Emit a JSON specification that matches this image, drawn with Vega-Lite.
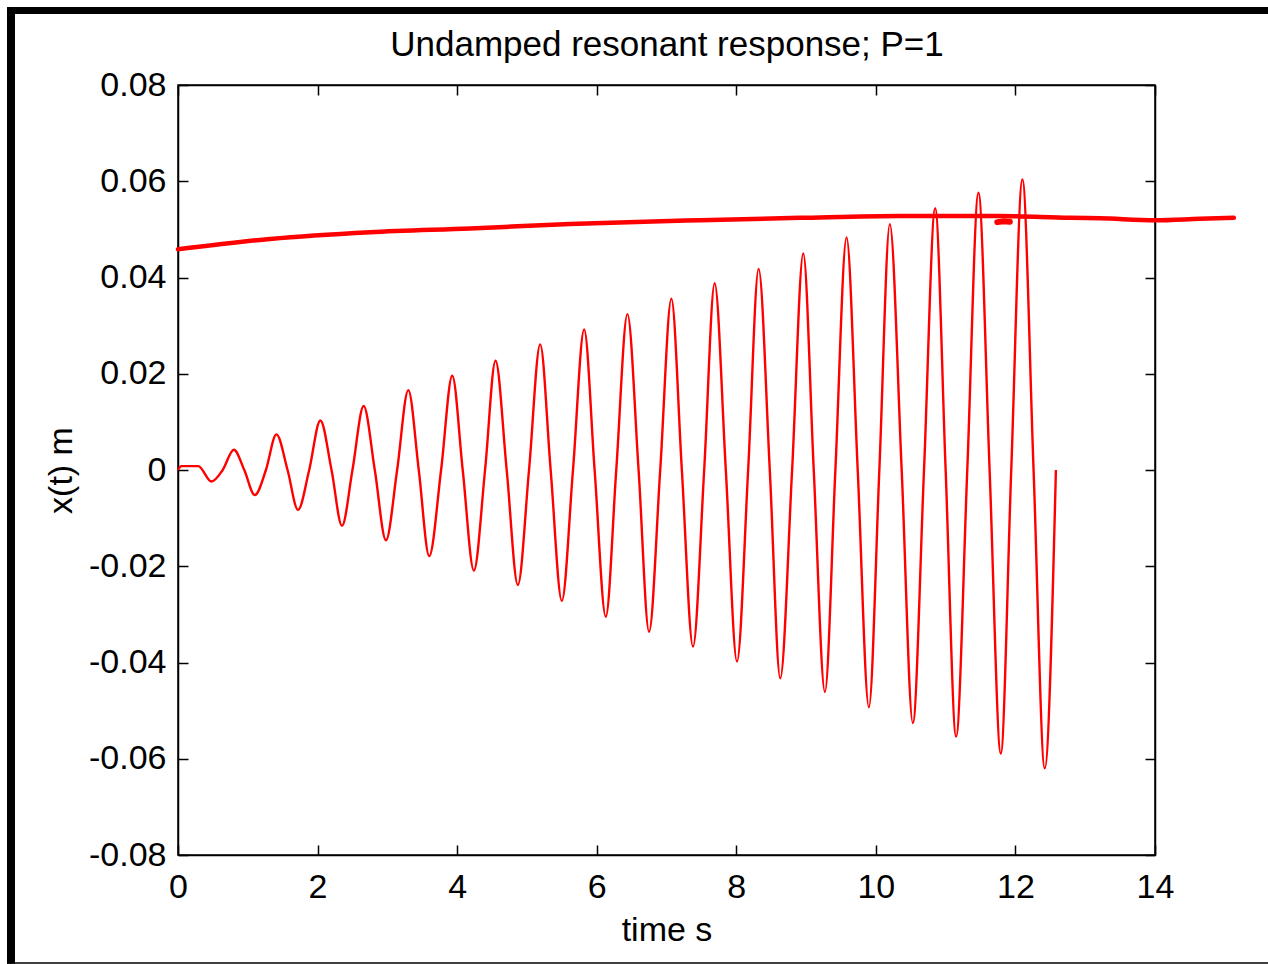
{
  "$schema": "https://vega.github.io/schema/vega-lite/v6.json",
  "autosize": {"type": "none"},
  "width": 977,
  "height": 770,
  "padding": {"left": 178, "top": 85, "right": 113, "bottom": 109},
  "background": "white",
  "config": {
    "view": {"stroke": "black", "strokeWidth": 1.5},
    "axis": {"grid": false, "domainColor": "black", "domainWidth": 1.5, "tickColor": "black", "tickWidth": 1.5, "tickSize": -10, "labelFlush": false, "labelFont": "Liberation Sans", "labelFontSize": 34, "labelColor": "black", "titleFont": "Liberation Sans", "titleFontSize": 34, "titleFontWeight": "normal", "titleColor": "black"}
  },
  "datasets": {
    "response": [
      {"t": 0, "x": 0}, {"t": 0.05, "x": 0.0008}, {"t": 0.29, "x": 0.0008},
      {"t": 0.48, "x": -0.0024}, {"t": 0.64, "x": 0}, {"t": 0.80, "x": 0.0042}, {"t": 0.95, "x": 0},
      {"t": 1.10, "x": -0.0052}, {"t": 1.26, "x": 0}, {"t": 1.41, "x": 0.0074}, {"t": 1.57, "x": 0},
      {"t": 1.72, "x": -0.0083}, {"t": 1.88, "x": 0}, {"t": 2.04, "x": 0.0103}, {"t": 2.20, "x": 0},
      {"t": 2.35, "x": -0.0116}, {"t": 2.50, "x": 0}, {"t": 2.66, "x": 0.0133}, {"t": 2.82, "x": 0},
      {"t": 2.98, "x": -0.0146}, {"t": 3.14, "x": 0}, {"t": 3.30, "x": 0.0166}, {"t": 3.45, "x": 0},
      {"t": 3.60, "x": -0.0179}, {"t": 3.77, "x": 0}, {"t": 3.93, "x": 0.0196}, {"t": 4.08, "x": 0},
      {"t": 4.24, "x": -0.0209}, {"t": 4.40, "x": 0}, {"t": 4.55, "x": 0.0227}, {"t": 4.71, "x": 0},
      {"t": 4.87, "x": -0.0239}, {"t": 5.03, "x": 0}, {"t": 5.19, "x": 0.0261}, {"t": 5.34, "x": 0},
      {"t": 5.50, "x": -0.0272}, {"t": 5.66, "x": 0}, {"t": 5.82, "x": 0.0292}, {"t": 5.97, "x": 0},
      {"t": 6.13, "x": -0.0305}, {"t": 6.28, "x": 0}, {"t": 6.44, "x": 0.0324}, {"t": 6.60, "x": 0},
      {"t": 6.75, "x": -0.0336}, {"t": 6.91, "x": 0}, {"t": 7.07, "x": 0.0356}, {"t": 7.22, "x": 0},
      {"t": 7.38, "x": -0.0367}, {"t": 7.54, "x": 0}, {"t": 7.69, "x": 0.0388}, {"t": 7.85, "x": 0},
      {"t": 8.01, "x": -0.0398}, {"t": 8.17, "x": 0}, {"t": 8.32, "x": 0.0418}, {"t": 8.48, "x": 0},
      {"t": 8.63, "x": -0.0433}, {"t": 8.80, "x": 0}, {"t": 8.96, "x": 0.0450}, {"t": 9.11, "x": 0},
      {"t": 9.27, "x": -0.0461}, {"t": 9.42, "x": 0}, {"t": 9.58, "x": 0.0483}, {"t": 9.74, "x": 0},
      {"t": 9.90, "x": -0.0493}, {"t": 10.05, "x": 0}, {"t": 10.20, "x": 0.0511}, {"t": 10.37, "x": 0},
      {"t": 10.53, "x": -0.0526}, {"t": 10.69, "x": 0}, {"t": 10.85, "x": 0.0544}, {"t": 11.00, "x": 0},
      {"t": 11.15, "x": -0.0554}, {"t": 11.31, "x": 0}, {"t": 11.47, "x": 0.0576}, {"t": 11.63, "x": 0},
      {"t": 11.79, "x": -0.0589}, {"t": 11.94, "x": 0}, {"t": 12.10, "x": 0.0604}, {"t": 12.26, "x": 0},
      {"t": 12.42, "x": -0.0620}, {"t": 12.58, "x": 0}
    ],
    "sketch": [
      {"t": 0, "x": 0.04586}, {"t": 1.318, "x": 0.0480}, {"t": 2.751, "x": 0.0494}, {"t": 4.184, "x": 0.0502},
      {"t": 5.617, "x": 0.0511}, {"t": 7.48, "x": 0.0519}, {"t": 8.913, "x": 0.0524}, {"t": 10.346, "x": 0.0528},
      {"t": 11.779, "x": 0.0528}, {"t": 12.78, "x": 0.0524}, {"t": 13.21, "x": 0.0523}, {"t": 14.0, "x": 0.0519},
      {"t": 14.645, "x": 0.0522}, {"t": 15.13, "x": 0.0524}
    ],
    "dot": [
      {"t": 11.74, "x": 0.0515}, {"t": 11.83, "x": 0.0517}, {"t": 11.92, "x": 0.0516}
    ]
  },
  "layer": [
    {
      "data": {"values": [{}]},
      "mark": {"type": "rule", "color": "black", "strokeWidth": 8},
      "encoding": {
        "x": {"datum": -2.393, "type": "quantitative", "axis": null},
        "y": {"datum": 0.0962, "type": "quantitative", "axis": null},
        "y2": {"datum": -0.1026}
      }
    },
    {
      "data": {"values": [{}]},
      "mark": {"type": "rule", "color": "black", "strokeWidth": 7},
      "encoding": {
        "x": {"datum": -2.45, "type": "quantitative", "axis": null},
        "x2": {"datum": 15.62},
        "y": {"datum": 0.0955, "type": "quantitative", "axis": null}
      }
    },
    {
      "data": {"values": [{}]},
      "mark": {"type": "rule", "color": "black", "strokeWidth": 1.5},
      "encoding": {
        "x": {"datum": -2.45, "type": "quantitative", "axis": null},
        "x2": {"datum": 15.62},
        "y": {"datum": -0.10244, "type": "quantitative", "axis": null}
      }
    },
    {
      "data": {"name": "response"},
      "mark": {"type": "line", "color": "#ff0000", "strokeWidth": 2.4, "interpolate": "monotone"},
      "encoding": {
        "x": {"field": "t", "type": "quantitative", "scale": {"domain": [0, 14], "nice": false, "zero": false},
              "axis": {"orient": "bottom", "values": [0, 2, 4, 6, 8, 10, 12, 14], "format": "d", "labelPadding": 25, "title": "time s", "titlePadding": 9}},
        "y": {"field": "x", "type": "quantitative", "scale": {"domain": [-0.08, 0.08], "nice": false, "zero": false},
              "axis": {"orient": "left", "values": [-0.08, -0.06, -0.04, -0.02, 0, 0.02, 0.04, 0.06, 0.08], "labelExpr": "datum.value == 0 ? '0' : (datum.value < 0 ? '-' : '') + format(abs(datum.value), '.2f')", "labelPadding": 22, "title": "x(t) m", "titlePadding": 10}}
      }
    },
    {
      "data": {"name": "sketch"},
      "mark": {"type": "line", "color": "#ff0000", "strokeWidth": 4.5, "interpolate": "monotone", "strokeCap": "round"},
      "encoding": {
        "x": {"field": "t", "type": "quantitative", "axis": {"orient": "top", "values": [0, 2, 4, 6, 8, 10, 12, 14], "labels": false, "title": "Undamped resonant response; P=1", "titleBaseline": "alphabetic", "titlePadding": 29, "titleFontSize": 35}},
        "y": {"field": "x", "type": "quantitative", "axis": {"orient": "right", "values": [-0.08, -0.06, -0.04, -0.02, 0, 0.02, 0.04, 0.06, 0.08], "labels": false, "title": null}}
      }
    },
    {
      "data": {"name": "dot"},
      "mark": {"type": "line", "color": "#ff0000", "strokeWidth": 6, "strokeCap": "round"},
      "encoding": {
        "x": {"field": "t", "type": "quantitative", "axis": null},
        "y": {"field": "x", "type": "quantitative", "axis": null}
      }
    }
  ],
  "resolve": {"axis": {"x": "independent", "y": "independent"}}
}
